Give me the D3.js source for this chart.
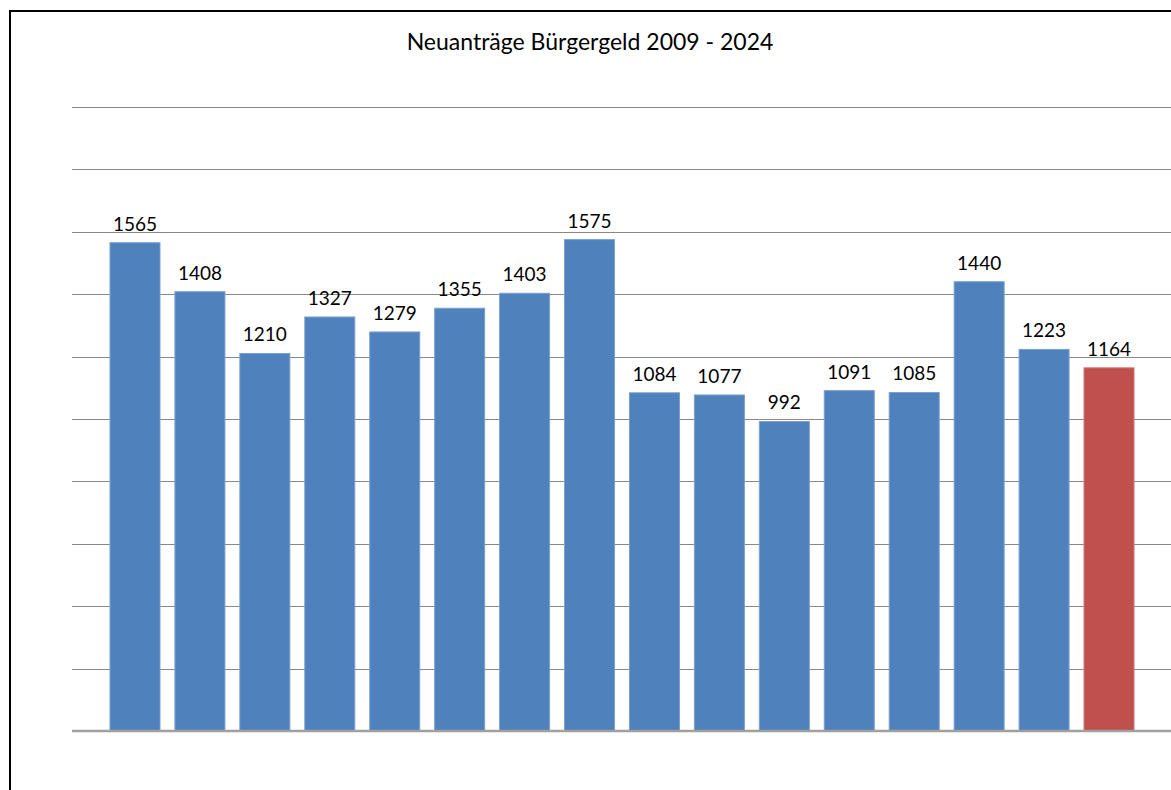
<!DOCTYPE html>
<html>
<head>
<meta charset="utf-8">
<script src="https://cdn.jsdelivr.net/npm/d3@7"></script>
<style>
html, body { margin: 0; padding: 0; background: #fff; overflow: hidden; }
svg { display: block; }
</style>
</head>
<body>
<svg id="chart" width="1171" height="790"></svg>
<script>
const years = ["2009","2010","2011","2012","2013","2014","2015","2016","2017","2018","2019","2020","2021","2022","2023","2024"];
const values = [1565, 1408, 1210, 1327, 1279, 1355, 1403, 1575, 1084, 1077, 992, 1091, 1085, 1440, 1223, 1164];
const highlightYear = "2024";
const yTicks = [0, 200, 400, 600, 800, 1000, 1200, 1400, 1600, 1800, 2000];
const title = "Neuanträge Bürgergeld 2009 - 2024";

const svg = d3.select("#chart");
const font = "Lato, 'Open Sans', sans-serif";

// outer chart border (right/bottom edges lie outside the visible area)
svg.append("rect")
  .attr("x", 10).attr("y", 11).attr("width", 1200).attr("height", 820)
  .attr("fill", "none").attr("stroke", "#000").attr("stroke-width", 2);

const x = d3.scaleBand().domain(years).range([72, 1172]).paddingInner(0.23).paddingOuter(0.585);
const y = d3.scaleLinear().domain([0, 2000]).range([731, 107]);

// gridlines
svg.append("g").selectAll("line").data(yTicks.filter(t => t > 0)).join("line")
  .attr("x1", 72).attr("x2", 1172)
  .attr("y1", d => Math.round(y(d)) + 0.5).attr("y2", d => Math.round(y(d)) + 0.5)
  .attr("stroke", "#888").attr("stroke-width", 1);

// bars
svg.append("g").selectAll("rect").data(years).join("rect")
  .attr("x", d => x(d))
  .attr("y", (d, i) => y(values[i]))
  .attr("width", x.bandwidth())
  .attr("height", (d, i) => y(0) - y(values[i]))
  .attr("fill", d => d === highlightYear ? "#c0504d" : "#4f81bd")
  .attr("stroke", d => d === highlightYear ? "#d07875" : "#7aa0cf")
  .attr("stroke-width", 1);

// baseline axis
svg.append("line")
  .attr("x1", 72).attr("x2", 1172)
  .attr("y1", y(0)).attr("y2", y(0))
  .attr("stroke", "#a0a0a0").attr("stroke-width", 2.5);

// value labels
svg.append("g").selectAll("text").data(years).join("text")
  .attr("x", d => x(d) + x.bandwidth() / 2)
  .attr("y", (d, i) => y(values[i]) - 12)
  .attr("text-anchor", "middle")
  .attr("font-family", font)
  .attr("font-size", 19)
  .attr("fill", "#000")
  .text((d, i) => values[i]);

// title
svg.append("text")
  .attr("x", 590).attr("y", 50)
  .attr("text-anchor", "middle")
  .attr("font-family", font)
  .attr("font-size", 23)
  .attr("fill", "#000")
  .text(title);
</script>
</body>
</html>
